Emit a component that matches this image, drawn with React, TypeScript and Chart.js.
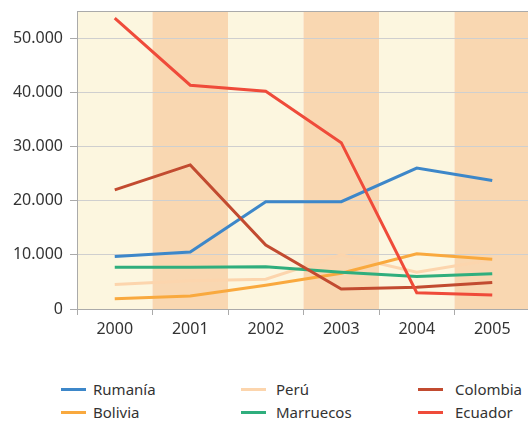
import React, { useEffect, useRef } from "react";
import { Chart, registerables } from "chart.js";

Chart.register(...registerables);

const years = ["2000", "2001", "2002", "2003", "2004", "2005"];
const yTicks = [0, 10000, 20000, 30000, 40000, 50000];
const rumania = [9700, 10500, 19800, 19800, 26000, 23700];
const bolivia = [1900, 2400, 4400, 6600, 10200, 9200];
const peru = [4500, 5200, 5500, 10000, 6800, 9100];
const marruecos = [7700, 7700, 7800, 6800, 6000, 6500];
const colombia = [22000, 26600, 11800, 3700, 4000, 4900];
const ecuador = [53700, 41300, 40200, 30700, 3000, 2600];

const seriesNames = ["Rumanía", "Bolivia", "Perú", "Marruecos", "Colombia", "Ecuador"];
const seriesColors = ["#3d87c9", "#f9a93e", "#fcd5ad", "#2fae7d", "#c24b30", "#ef4b3a"];
const seriesData = [rumania, bolivia, peru, marruecos, colombia, ecuador];
const seriesOrder = [5, 4, 6, 3, 2, 1];

const FONT = "'Noto Sans', 'Open Sans', sans-serif";

const fmt = (v: number) => String(Math.round(v)).replace(/\B(?=(\d{3})+(?!\d))/g, ".");

const bandsPlugin = {
  id: "bands",
  beforeDraw(chart: any) {
    const { ctx, chartArea } = chart;
    const n = years.length;
    const w = (chartArea.right - chartArea.left) / n;
    ctx.save();
    for (let i = 0; i < n; i++) {
      ctx.fillStyle = i % 2 === 0 ? "#fcf6df" : "#f9d7b1";
      ctx.fillRect(chartArea.left + i * w, chartArea.top, w, chartArea.bottom - chartArea.top);
    }
    ctx.restore();
  },
  afterDraw(chart: any) {
    const { ctx, chartArea } = chart;
    ctx.save();
    ctx.strokeStyle = "#aaaaaa";
    ctx.lineWidth = 1;
    ctx.beginPath();
    ctx.moveTo(chartArea.left, chartArea.top + 0.5);
    ctx.lineTo(chartArea.right, chartArea.top + 0.5);
    ctx.stroke();
    ctx.restore();
  },
};

export default function App() {
  const ref = useRef<HTMLCanvasElement>(null);
  useEffect(() => {
    document.body.style.margin = "0";
    const chart = new Chart(ref.current!, {
      type: "line",
      data: {
        labels: years,
        datasets: seriesNames.map((name, i) => ({
          label: name,
          data: seriesData[i],
          borderColor: seriesColors[i],
          backgroundColor: seriesColors[i],
          borderWidth: 3,
          pointRadius: 0,
          tension: 0,
          order: seriesOrder[i],
        })),
      },
      options: {
        animation: false,
        responsive: false,
        devicePixelRatio: 1,
        layout: { padding: { top: 11, right: 2, left: 0, bottom: 0 } },
        plugins: { legend: { display: false }, tooltip: { enabled: false } },
        scales: {
          x: {
            offset: true,
            grid: { offset: true, drawOnChartArea: false, tickLength: 6, color: "#aaaaaa" },
            border: { color: "#aaaaaa" },
            ticks: { color: "#333", font: { family: FONT, size: 16 }, padding: 5 },
            afterFit(scale: any) {
              scale.height = 36;
              scale.paddingLeft = 0;
              scale.paddingRight = 0;
            },
          },
          y: {
            min: 0,
            max: 55000,
            grid: { color: "#cfcfcf", tickLength: 7, tickColor: "#aaaaaa" },
            border: { color: "#aaaaaa" },
            afterBuildTicks(scale: any) {
              scale.ticks = yTicks.map((v) => ({ value: v }));
            },
            ticks: {
              autoSkip: false,
              color: "#333",
              font: { family: FONT, size: 16 },
              padding: 7,
              callback: (v: any) => fmt(Number(v)),
            },
            afterFit(scale: any) {
              scale.width = 77;
              scale.paddingTop = 0;
              scale.paddingBottom = 0;
            },
          },
        },
      },
      plugins: [bandsPlugin],
    } as any);
    return () => chart.destroy();
  }, []);

  const legendCols = [
    { mx: 61, tx: 93, items: [0, 1] },
    { mx: 241, tx: 276, items: [2, 3] },
    { mx: 418, tx: 455, items: [4, 5] },
  ];
  const rowY = [389, 412];

  return (
    <div style={{ position: "relative", width: 528, height: 421, overflow: "hidden", background: "#fff" }}>
      <canvas ref={ref} width={532} height={345} style={{ position: "absolute", left: 0, top: 0, width: 532, height: 345 }} />
      {legendCols.map((col) =>
        col.items.map((idx, r) => (
          <React.Fragment key={idx}>
            <span
              style={{
                position: "absolute",
                left: col.mx,
                top: rowY[r] - 1,
                width: 25,
                height: 3,
                background: seriesColors[idx],
              }}
            />
            <span
              style={{
                position: "absolute",
                left: col.tx,
                top: rowY[r] - 10,
                height: 20,
                lineHeight: "20px",
                fontFamily: FONT,
                fontSize: 15,
                color: "#333",
                whiteSpace: "nowrap",
              }}
            >
              {seriesNames[idx]}
            </span>
          </React.Fragment>
        ))
      )}
    </div>
  );
}
